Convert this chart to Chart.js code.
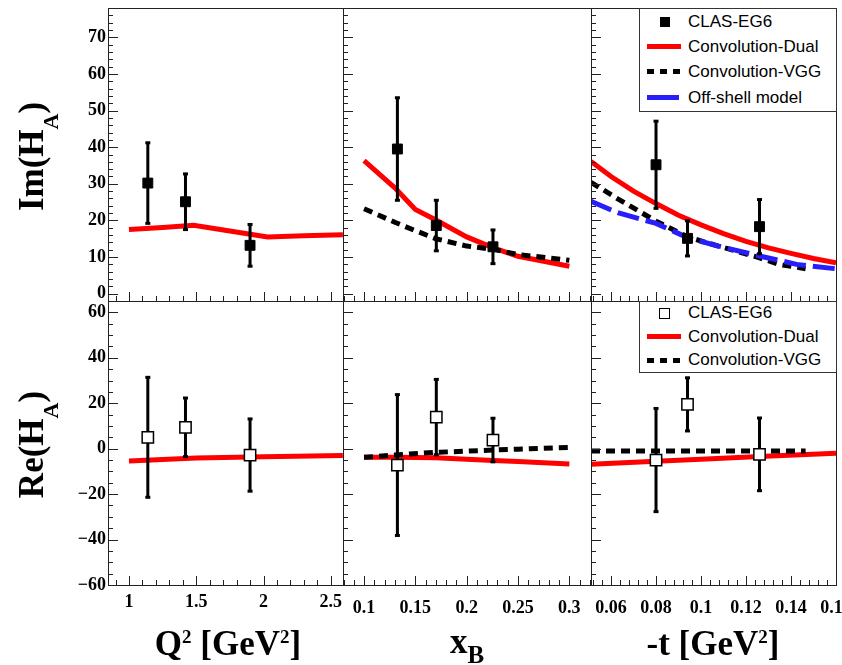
<!DOCTYPE html>
<html>
<head>
<meta charset="utf-8">
<script src="https://cdn.jsdelivr.net/npm/chart.js@4.4.0/dist/chart.umd.min.js"></script>
<style>
body { margin: 0; width: 842px; height: 665px; overflow: hidden; background: #fff; position: relative; font-family: 'Liberation Serif', 'Times New Roman', serif; }
canvas { position: absolute; }
.xt { position: absolute; width: 300px; text-align: center; font-weight: bold; font-size: 35px; line-height: 35px; white-space: nowrap; color: #000; }
.yt { position: absolute; width: 220px; text-align: center; font-weight: bold; font-size: 35px; line-height: 35px; white-space: nowrap; color: #000; transform: rotate(-90deg); }
.leg { position: absolute; box-sizing: border-box; border: 1px solid #333; background: #fff; font-family: 'Liberation Sans', Arial, sans-serif; font-size: 17px; color: #000; }
.leg div { position: absolute; }
.leg .txt { left: 48px; line-height: 20px; white-space: nowrap; }
</style>
</head>
<body>

<div class="yt" style="left:-77px;top:137px">Im(H<span style="font-size:22px;position:relative;top:15px">A</span>)</div>
<div class="yt" style="left:-77px;top:425px">Re(H<span style="font-size:22px;position:relative;top:15px">A</span>)</div>

<div class="xt" style="left:78px;top:626px">Q<span style="font-size:19px;position:relative;top:-12px">2</span> [GeV<span style="font-size:19px;position:relative;top:-12px">2</span>]</div>
<div class="xt" style="left:317px;top:624px">x<span style="font-size:25px;position:relative;top:10px">B</span></div>
<div class="xt" style="left:563px;top:626px">-t [GeV<span style="font-size:19px;position:relative;top:-12px">2</span>]</div>

<div class="leg" style="left:639px;top:8px;width:198px;height:104px">
  <div style="left:20px;top:8px;width:10px;height:10px;background:#000"></div>
  <div class="txt" style="top:3px">CLAS-EG6</div>
  <div style="left:7px;top:35px;width:34px;height:5px;background:#f00"></div>
  <div class="txt" style="top:28px">Convolution-Dual</div>
  <div style="left:7px;top:60px;width:34px;height:5px;background:repeating-linear-gradient(90deg,#000 0 7px,transparent 7px 13px)"></div>
  <div class="txt" style="top:53px">Convolution-VGG</div>
  <div style="left:7px;top:86px;width:32px;height:5px;background:rgb(40,30,250)"></div>
  <div class="txt" style="top:79px">Off-shell model</div>
</div>

<div class="leg" style="left:639px;top:301px;width:198px;height:72px">
  <div style="left:19px;top:6px;width:9px;height:9px;border:1.5px solid #000;background:#fff"></div>
  <div class="txt" style="top:1px">CLAS-EG6</div>
  <div style="left:7px;top:32px;width:34px;height:5px;background:#f00"></div>
  <div class="txt" style="top:25px">Convolution-Dual</div>
  <div style="left:7px;top:56px;width:34px;height:5px;background:repeating-linear-gradient(90deg,#000 0 7px,transparent 7px 13px)"></div>
  <div class="txt" style="top:48px">Convolution-VGG</div>
</div>

<script>
// ---- data ----
// measured points
const q2Pts = [1.14, 1.42, 1.90]
const xbPts = [0.1325, 0.1704, 0.2256]
const tPts = [0.080, 0.094, 0.126]

const imQ2 = [30.2, 25.1, 13.2]
const imQ2Err = [11.0, 7.6, 5.7]
const imXb = [39.5, 18.6, 12.8]
const imXbErr = [14.0, 6.9, 4.6]
const imT = [35.2, 15.1, 18.3]
const imTErr = [11.9, 4.8, 7.4]

const reQ2 = [5.0, 9.4, -2.8]
const reQ2Err = [26.4, 12.9, 15.9]
const reXb = [-7.2, 13.9, 3.8]
const reXbErr = [31.0, 16.6, 9.6]
const reT = [-5.0, 19.5, -2.5]
const reTErr = [22.7, 11.7, 16.0]

// model curves
const q2Curve = [1.0, 1.25, 1.48, 1.75, 2.03, 2.3, 2.59]
const imQ2Dual = [17.5, 18.1, 18.7, 17.1, 15.5, 15.8, 16.1]
const reQ2Curve = [1.0, 1.5, 2.0, 2.59]
const reQ2Dual = [-5.4, -4.1, -3.5, -3.0]

const xbCurve = [0.1, 0.13, 0.15, 0.17, 0.2, 0.226, 0.25, 0.3]
const imXbDual = [36.3, 28.9, 23.0, 20.1, 15.5, 12.5, 10.2, 7.5]
const imXbVgg = [23.2, 19.5, 17.2, 15.0, 13.0, 12.1, 10.7, 9.1]
const reXbCurve = [0.1, 0.13, 0.17, 0.2, 0.226, 0.25, 0.3]
const reXbDual = [-3.8, -3.8, -4.0, -4.6, -5.2, -5.6, -6.7]
const reXbVgg = [-3.8, -2.8, -1.6, -1.1, -0.6, -0.2, 0.5]

const tCurve = [0.0511, 0.06, 0.07, 0.08, 0.09, 0.1, 0.11, 0.12, 0.13, 0.14, 0.15, 0.16]
const imTDual = [36.1, 32.0, 28.0, 24.6, 21.4, 18.8, 16.4, 14.3, 12.5, 11.0, 9.6, 8.4]
const tVgg = [0.0511, 0.063, 0.08, 0.094, 0.1077, 0.126, 0.1347, 0.1465]
const imTVgg = [30.4, 25.9, 19.8, 15.5, 13.0, 9.8, 8.0, 6.8]
const tOff = [0.0511, 0.063, 0.08, 0.094, 0.1077, 0.126, 0.1425, 0.16]
const imTOff = [25.2, 22.1, 19.2, 15.3, 13.0, 10.3, 8.0, 6.8]
const reTCurve = [0.0511, 0.08, 0.1, 0.126, 0.16]
const reTDual = [-6.9, -5.5, -4.6, -3.4, -2.0]
const reTVggX = [0.0511, 0.1, 0.1465]
const reTVgg = [-1.0, -1.0, -1.0]

// tick labels
const q2Ticks = [1, 1.5, 2, 2.5]
const xbTicks = [0.1, 0.15, 0.2, 0.25, 0.3]
const tTicks = [0.06, 0.08, 0.1, 0.12, 0.14, 0.16]
const imTicks = [0, 10, 20, 30, 40, 50, 60, 70]
const reTicks = [-60, -40, -20, 0, 20, 40, 60]

const RED = '#ff0000'
const BLUE = 'rgb(40,30,250)'

// ROOT style frame with inner ticks
const frameTicks = {
    id: 'frameTicks',
    afterDatasetsDraw(chart, args, o) {
        const ctx = chart.ctx
        const a = chart.chartArea
        const x = chart.scales.x, y = chart.scales.y
        const steps = (min, max, st) => {
            const out = []
            for (let k = Math.ceil(min / st - 1e-6); k * st <= max + 1e-9; k++) out.push(k * st)
            return out
        }
        const isMajor = (v, m) => Math.abs(v / m - Math.round(v / m)) < 1e-6
        ctx.save()
        ctx.strokeStyle = '#222'
        ctx.lineWidth = 1
        ctx.beginPath()
        steps(x.min, x.max, o.xMinor).forEach(v => {
            const px = Math.round(x.getPixelForValue(v)) + 0.5
            ctx.moveTo(px, a.bottom)
            ctx.lineTo(px, a.bottom - (isMajor(v, o.xMajor) ? 9 : 5))
        })
        steps(y.min, y.max, o.yMinor).forEach(v => {
            const py = Math.round(y.getPixelForValue(v)) + 0.5
            ctx.moveTo(a.left, py)
            ctx.lineTo(a.left + (isMajor(v, o.yMajor) ? 10 : 5), py)
        })
        ctx.stroke()
        ctx.strokeRect(a.left + 0.5, a.top + 0.5, a.right - a.left, a.bottom - a.top)
        ctx.restore()
    }
}

function pts(xs, ys) { return xs.map((v, i) => ({ x: v, y: ys[i] })) }

function curve(xs, ys, color, dash, order) {
    return {
        data: pts(xs, ys), showLine: true, borderColor: color, borderWidth: 5,
        borderDash: dash || [], pointRadius: 0, clip: 0, order: order
    }
}

function errBars(xs, ys, es) {
    const d = []
    xs.forEach((v, i) => {
        d.push({ x: v, y: ys[i] - es[i] }, { x: v, y: ys[i] + es[i] }, { x: v, y: null })
    })
    return {
        data: d, showLine: true, spanGaps: false, borderColor: '#000', borderWidth: 3,
        pointStyle: 'line', pointRadius: 2.5, pointBorderWidth: 3, pointBorderColor: '#000', order: 1
    }
}

function markers(xs, ys, open) {
    return {
        data: pts(xs, ys), pointStyle: 'rect', pointRadius: open ? 8 : 7,
        pointBackgroundColor: open ? '#fff' : '#000', pointBorderColor: '#000',
        pointBorderWidth: open ? 1.5 : 1, order: 0
    }
}

const fmt = v => String(+(+v).toFixed(4)).replace('-', '\u2212')
const tickFont = { family: 'Liberation Serif', size: 18, weight: 'bold' }

function makePanel(p) {
    const padL = p.yTicks ? p.x0 : 20
    const padT = 20, padR = 30
    const padB = p.xTicks ? 45 : 20
    const c = document.createElement('canvas')
    c.width = p.x1 - p.x0 + padL + padR
    c.height = p.y1 - p.y0 + padT + padB
    c.style.left = (p.x0 - padL) + 'px'
    c.style.top = (p.y0 - padT) + 'px'
    document.body.insertBefore(c, document.body.firstChild)
    new Chart(c, {
        type: 'scatter',
        data: { datasets: p.datasets },
        options: {
            responsive: false, animation: false, events: [],
            layout: { padding: { left: p.yTicks ? 0 : padL, top: padT, right: padR, bottom: p.xTicks ? 0 : padB } },
            plugins: {
                legend: { display: false }, tooltip: { enabled: false },
                frameTicks: { xMinor: p.xMinor, xMajor: p.xMajor, yMinor: p.yMinor, yMajor: p.yMajor }
            },
            scales: {
                x: {
                    type: 'linear', min: p.xr[0], max: p.xr[1], display: !!p.xTicks,
                    grid: { display: false, drawTicks: false }, border: { display: false },
                    afterBuildTicks: s => { if (p.xTicks) s.ticks = p.xTicks.map(v => ({ value: v })) },
                    afterFit: s => { if (p.xTicks) s.height = padB },
                    ticks: { font: tickFont, color: '#000', padding: p.xPad || 7, maxRotation: 0, autoSkip: false, callback: v => fmt(v) }
                },
                y: {
                    type: 'linear', min: p.yr[0], max: p.yr[1], display: !!p.yTicks,
                    grid: { display: false, drawTicks: false }, border: { display: false },
                    afterBuildTicks: s => { if (p.yTicks) s.ticks = p.yTicks.map(v => ({ value: v })) },
                    afterFit: s => { if (p.yTicks) s.width = padL },
                    ticks: { font: tickFont, color: '#000', padding: 2, autoSkip: false, callback: v => fmt(v) }
                }
            }
        },
        plugins: [frameTicks]
    })
}

const L = 108, M1 = 343, M2 = 591, R = 836, T = 8, MID = 301, B = 585
const q2Range = [0.844, 2.591], xbRange = [0.0795, 0.3211], tRange = [0.0511, 0.16]
const imRange = [-2, 78], reRange = [-60, 65]

// top row: Im(H_A)
makePanel({
    x0: L, x1: M1, y0: T, y1: MID, xr: q2Range, yr: imRange, yTicks: imTicks,
    xMinor: 0.1, xMajor: 0.5, yMinor: 2, yMajor: 10,
    datasets: [markers(q2Pts, imQ2), errBars(q2Pts, imQ2, imQ2Err), curve(q2Curve, imQ2Dual, RED, null, 4)]
})
makePanel({
    x0: M1, x1: M2, y0: T, y1: MID, xr: xbRange, yr: imRange,
    xMinor: 0.01, xMajor: 0.05, yMinor: 2, yMajor: 10,
    datasets: [markers(xbPts, imXb), errBars(xbPts, imXb, imXbErr),
        curve(xbCurve, imXbVgg, '#000', [9, 6], 3), curve(xbCurve, imXbDual, RED, null, 4)]
})
makePanel({
    x0: M2, x1: R, y0: T, y1: MID, xr: tRange, yr: imRange,
    xMinor: 0.004, xMajor: 0.02, yMinor: 2, yMajor: 10,
    datasets: [markers(tPts, imT), errBars(tPts, imT, imTErr),
        curve(tOff, imTOff, BLUE, [22, 7], 2), curve(tVgg, imTVgg, '#000', [9, 6], 3), curve(tCurve, imTDual, RED, null, 4)]
})

// bottom row: Re(H_A)
makePanel({
    x0: L, x1: M1, y0: MID, y1: B, xr: q2Range, yr: reRange, yTicks: reTicks, xTicks: q2Ticks, xPad: 7,
    xMinor: 0.1, xMajor: 0.5, yMinor: 5, yMajor: 20,
    datasets: [markers(q2Pts, reQ2, true), errBars(q2Pts, reQ2, reQ2Err), curve(reQ2Curve, reQ2Dual, RED, null, 4)]
})
makePanel({
    x0: M1, x1: M2, y0: MID, y1: B, xr: xbRange, yr: reRange, xTicks: xbTicks, xPad: 13,
    xMinor: 0.01, xMajor: 0.05, yMinor: 5, yMajor: 20,
    datasets: [markers(xbPts, reXb, true), errBars(xbPts, reXb, reXbErr),
        curve(reXbCurve, reXbVgg, '#000', [9, 6], 3), curve(reXbCurve, reXbDual, RED, null, 4)]
})
makePanel({
    x0: M2, x1: R, y0: MID, y1: B, xr: tRange, yr: reRange, xTicks: tTicks, xPad: 13,
    xMinor: 0.004, xMajor: 0.02, yMinor: 5, yMajor: 20,
    datasets: [markers(tPts, reT, true), errBars(tPts, reT, reTErr),
        curve(reTVggX, reTVgg, '#000', [9, 6], 3), curve(reTCurve, reTDual, RED, null, 4)]
})
</script>
</body>
</html>
